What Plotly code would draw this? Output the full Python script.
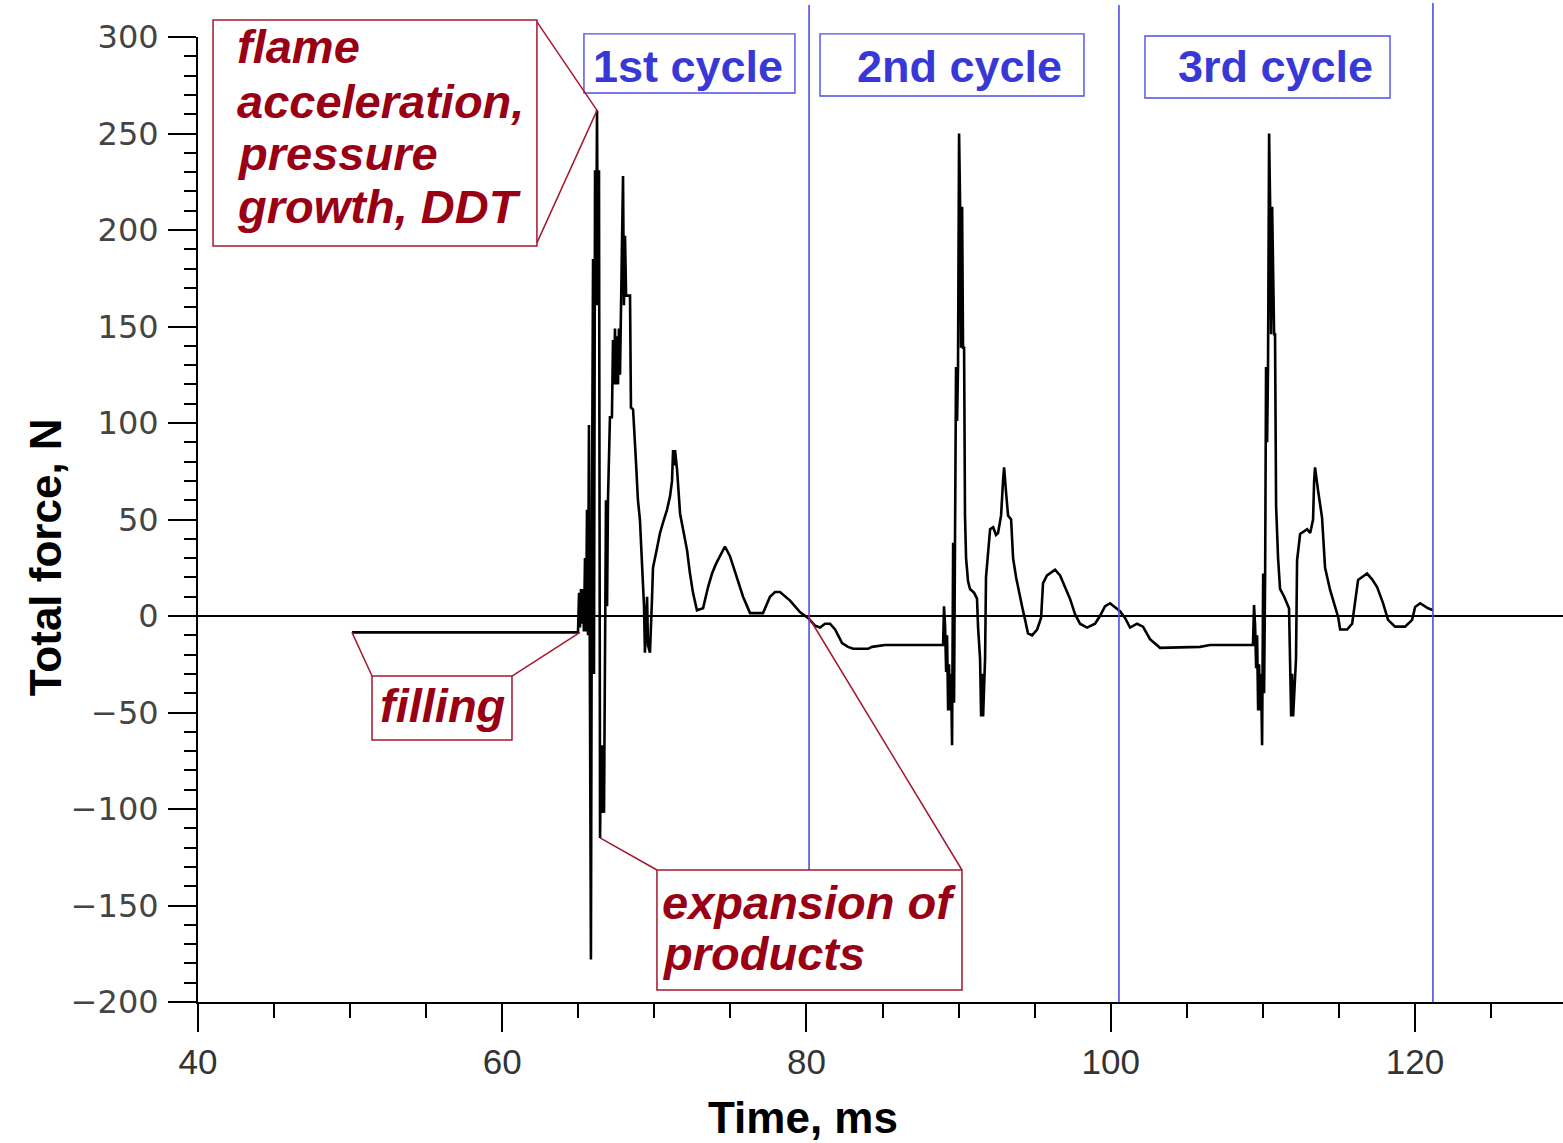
import plotly.graph_objects as go

# ---- Measured total force, three detonation cycles (time in ms, force in N) ----
t_cycle1 = [50.12, 64.98, 65.05, 65.11, 65.18, 65.24, 65.31, 65.37, 65.44, 65.51, 65.57,
            65.64, 65.70, 65.77, 65.83, 65.90, 65.97, 66.03, 66.10, 66.16, 66.23, 66.29,
            66.36, 66.43, 66.49, 66.56, 66.62, 66.69, 66.75, 66.82, 66.89, 66.95, 67.08,
            67.21, 67.28, 67.35, 67.41, 67.48, 67.54, 67.61, 67.67, 67.74, 67.81, 67.87,
            67.94, 68.00, 68.07, 68.14, 68.40, 68.46, 68.60, 68.79, 68.92, 69.05, 69.19,
            69.32, 69.38, 69.52, 69.58, 69.71, 69.84, 69.91, 70.17, 70.37, 70.63, 70.83,
            71.03, 71.16, 71.23, 71.29, 71.36, 71.49, 71.69, 71.95, 72.15, 72.34, 72.54,
            72.80, 73.20, 73.53, 73.79, 74.05, 74.32, 74.64, 74.97, 75.43, 75.83, 76.29,
            77.14, 77.60, 77.93, 78.26, 78.92, 79.57, 80.10, 80.56, 80.89, 81.22, 81.55,
            81.88, 82.34, 82.73, 83.06, 84.04, 84.31, 85.16]
f_cycle1 = [-8.5, -8.5, 12, -6, 14, -4, 14, -8, 30, -8, 55,
            -10, 99, -78, -178, 60, 185, -30, 231, 161, 262, 161,
            231, -115, -67, -102, -67, -102, 5, 60, 5, 60, 103,
            103, 143, 120, 149, 120, 145, 120, 149, 125, 161, 197,
            228, 161, 197, 166, 166, 108, 107, 80, 60, 50, 25,
            5, -19, 10, -15, -19, 8, 25, 35, 43, 50, 55,
            62, 70, 86, 78, 86, 76, 53, 43, 34, 22, 12,
            3, 4, 15, 22, 27, 31, 36, 31, 20, 10, 1.5,
            1.5, 10, 12.4, 12.4, 8, 2, -1, -5, -6, -4, -4,
            -7, -14, -16, -17, -17, -16, -15]

t_cycle2 = [88.98, 89.04, 89.11, 89.18, 89.24, 89.31, 89.37, 89.44, 89.50, 89.57, 89.64,
            89.70, 89.77, 89.83, 89.90, 89.96, 90.03, 90.10, 90.16, 90.23, 90.29, 90.36,
            90.42, 90.49, 90.62, 90.75, 91.02, 91.21, 91.28, 91.41, 91.48, 91.54, 91.61,
            91.74, 91.80, 91.94, 92.07, 92.27, 92.46, 92.59, 92.79, 92.92, 92.99, 93.12,
            93.25, 93.45, 93.58, 93.78, 93.97, 94.17, 94.37, 94.56, 94.83, 95.16, 95.42,
            95.55, 95.81, 96.34, 96.67, 96.99, 97.32, 97.65, 97.98, 98.44, 98.97, 99.29,
            99.62, 99.95, 100.41, 100.61, 100.94, 101.27, 101.73, 102.12, 102.58, 103.24,
            105.87, 106.53]
f_cycle2 = [-15, 5, -5, -29, -10, -49, -25, -49, -30, -67, 38,
            -45, 38, 129, 101, 129, 250, 212, 139, 212, 139, 139,
            52, 30, 18, 14, 12, 9, -6, -22, -52, -30, -52,
            -22, 20, 32, 45, 46, 42, 43, 52, 70, 77, 64,
            52, 50, 30, 20, 12, 5, -2, -9, -10, -7, -1,
            17, 21, 24, 21, 15, 9, 1, -4, -6, -4, 0,
            5, 6.6, 4, 2.5, -1, -6, -4, -5.5, -12, -16.5,
            -16, -15]

t_cycle3 = [109.35, 109.42, 109.49, 109.56, 109.62, 109.69, 109.75, 109.82, 109.88, 109.95,
            110.02, 110.08, 110.15, 110.21, 110.28, 110.34, 110.41, 110.48, 110.54, 110.61,
            110.74, 110.80, 110.87, 111.00, 111.13, 111.40, 111.72, 111.79, 111.86, 111.92,
            111.99, 112.18, 112.25, 112.45, 112.91, 113.11, 113.30, 113.37, 113.43, 113.63,
            113.89, 114.09, 114.42, 114.75, 114.95, 115.08, 115.54, 115.87, 116.07, 116.26,
            116.85, 117.18, 117.51, 117.90, 118.23, 118.69, 119.35, 119.81, 120.01, 120.34,
            120.86, 121.19]
f_cycle3 = [-15, 5.7, -5, -27, -10, -49, -25, -49, -30, -67,
            22, -40, 22, 129, 90, 129, 250, 212, 146, 212,
            146, 146, 57, 30, 14, 10, 4, -20, -52, -30,
            -52, -22, 29, 42.5, 45, 43, 50, 70, 77, 65,
            51, 25, 13.5, 4.7, -0.5, -7, -7, -4, 8, 18.7,
            22, 19, 15, 6.7, -2, -5.5, -5.5, -2, 4.7, 6.6,
            4, 3]

# cycle boundaries (ms) and labels
cycle_bounds = [80.17, 100.54, 121.18]
cycle_labels = ["1st cycle", "2nd cycle", "3rd cycle"]

x_tick_vals = [40, 60, 80, 100, 120]
y_tick_vals = [-200, -150, -100, -50, 0, 50, 100, 150, 200, 250, 300]

X_MIN, X_MAX = 40.0, 129.73
Y_MIN, Y_MAX = -200.0, 300.0

DARK_RED = "#990014"
BORDER_RED = "#A3182E"
BLUE_TEXT = "#3838D6"
BLUE_LINE = "#4E4EE8"
LABEL_FONT = "Liberation Sans"


def px(t):
    """time (ms) -> paper x"""
    return (t - X_MIN) / (X_MAX - X_MIN)


def py(f):
    """force (N) -> paper y"""
    return (f - Y_MIN) / (Y_MAX - Y_MIN)


time_ms = t_cycle1 + t_cycle2 + t_cycle3
force_n = f_cycle1 + f_cycle2 + f_cycle3

fig = go.Figure()
fig.add_trace(go.Scatter(
    x=time_ms, y=force_n, mode="lines",
    line=dict(color="black", width=2.6),
    hoverinfo="skip", showlegend=False,
))

shapes = []
annotations = []


def box(x0, x1, y0, y1, color, width=1.5):
    shapes.append(dict(type="rect", xref="paper", yref="paper",
                       x0=px(x0), x1=px(x1), y0=py(y0), y1=py(y1),
                       line=dict(color=color, width=width),
                       fillcolor="white", layer="above"))


def seg(xa, ya, xb, yb, color, width=1.5):
    shapes.append(dict(type="line", xref="paper", yref="paper",
                       x0=px(xa), y0=py(ya), x1=px(xb), y1=py(yb),
                       line=dict(color=color, width=width), layer="above"))


def label(x, y, text, color, size, bold=True, italic=False, xanchor="left"):
    annotations.append(dict(
        xref="paper", yref="paper", x=px(x), y=py(y), text=text,
        showarrow=False, xanchor=xanchor, yanchor="middle",
        font=dict(family=LABEL_FONT, size=size, color=color,
                  weight="bold" if bold else "normal",
                  style="italic" if italic else "normal")))


# cycle boundary lines
seg(cycle_bounds[0], 316.6, cycle_bounds[0], -131.6, BLUE_LINE, 1.6)
seg(cycle_bounds[1], 316.6, cycle_bounds[1], -200, BLUE_LINE, 1.6)
seg(cycle_bounds[2], 317.6, cycle_bounds[2], -200, BLUE_LINE, 1.6)

# cycle label boxes
cycle_boxes = [(65.37, 79.24, 271.0, 301.6), (80.89, 98.24, 269.4, 301.6),
               (102.25, 118.36, 268.4, 300.5)]
cycle_text_x = [72.21, 90.09, 110.86]
for (x0, x1, y0, y1), tx, txt in zip(cycle_boxes, cycle_text_x, cycle_labels):
    box(x0, x1, y0, y1, BLUE_LINE, 1.4)
    label(tx, 284.5, txt, BLUE_TEXT, 45, bold=True, xanchor="center")

# process annotations with leader lines
peak_t, peak_f = 66.23, 262
seg(62.28, 307.8, peak_t, peak_f, BORDER_RED)
seg(62.28, 193.3, peak_t, peak_f, BORDER_RED)
box(40.99, 62.28, 191.7, 308.8, BORDER_RED)
for yy, txt in zip([295.3, 266.8, 239.4, 212.4],
                   ["flame", "acceleration,", "pressure", "growth, DDT"]):
    label(42.40, yy, txt, DARK_RED, 47, italic=True)

seg(50.12, -8.5, 51.44, -31.1, BORDER_RED)
seg(60.64, -31.1, 65.11, -8.5, BORDER_RED)
box(51.44, 60.64, -64.2, -31.1, BORDER_RED)
label(56.04, -46.6, "filling", DARK_RED, 47, italic=True, xanchor="center")

seg(66.43, -115, 70.17, -131.6, BORDER_RED)
seg(90.22, -131.6, 80.10, 0, BORDER_RED)
box(70.17, 90.22, -193.8, -131.6, BORDER_RED)
label(70.40, -148.2, "expansion of", DARK_RED, 47, italic=True)
label(70.40, -175.1, "products", DARK_RED, 47, italic=True)

# axis titles
annotations.append(dict(xref="paper", yref="paper", x=0.443, y=-0.120,
                        text="Time, ms", showarrow=False,
                        xanchor="center", yanchor="middle",
                        font=dict(family=LABEL_FONT, size=44, color="black",
                                  weight="bold")))
annotations.append(dict(xref="paper", yref="paper", x=-0.112, y=0.461,
                        text="Total force, N", showarrow=False, textangle=-90,
                        xanchor="center", yanchor="middle",
                        font=dict(family=LABEL_FONT, size=44, color="black",
                                  weight="bold")))

fig.update_layout(
    width=1563, height=1143,
    margin=dict(l=198, r=0, t=37, b=141),
    paper_bgcolor="white", plot_bgcolor="white",
    shapes=shapes, annotations=annotations,
    showlegend=False,
)
fig.update_xaxes(
    range=[X_MIN, X_MAX], tickvals=x_tick_vals,
    ticks="outside", ticklen=28, tickwidth=2, tickcolor="black",
    minor=dict(dtick=5, tick0=40, ticks="outside", ticklen=14, tickwidth=2,
               tickcolor="black", showgrid=False),
    showline=True, linecolor="black", linewidth=2,
    showgrid=False, zeroline=False,
    tickfont=dict(family=LABEL_FONT, size=35, color="#333333"),
)
fig.update_yaxes(
    range=[Y_MIN, Y_MAX], tickvals=y_tick_vals,
    ticks="outside", ticklen=28, tickwidth=2, tickcolor="black",
    minor=dict(dtick=10, tick0=0, ticks="outside", ticklen=12, tickwidth=2,
               tickcolor="black", showgrid=False),
    showline=True, linecolor="black", linewidth=2,
    showgrid=False, zeroline=True, zerolinecolor="black", zerolinewidth=2,
    ticklabelstandoff=3,
    tickfont=dict(family="DejaVu Sans", size=32, color="#444444"),
)

fig.write_html("out.html")
